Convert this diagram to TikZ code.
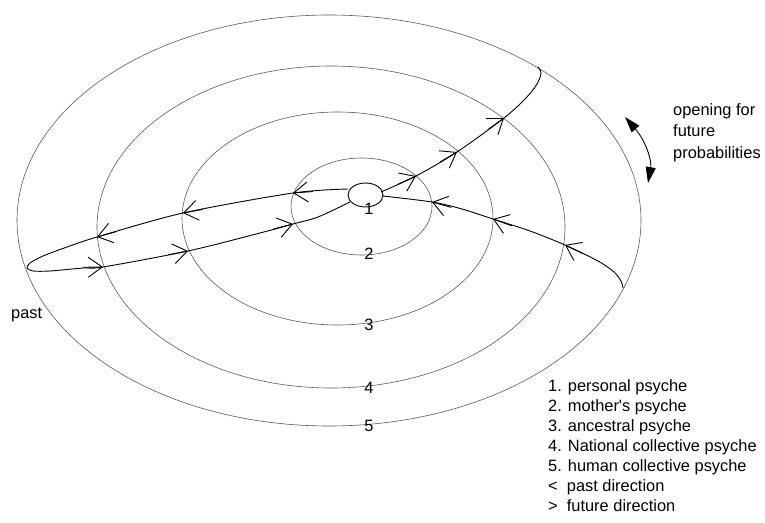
\documentclass[tikz,border=0pt]{standalone}
\usepackage{fontspec}
\setmainfont{Liberation Sans}
\usetikzlibrary{arrows.meta,calc}

\begin{document}
\begin{tikzpicture}[x=1pt,y=-1pt,
  ring/.style={draw=black!65,line width=0.6pt},
  trail/.style={line width=0.9pt},
  barb/.style={trail,-{Straight Barb[length=14pt,width=20pt]}},
  swing/.style={line width=0.9pt,{Triangle[length=16pt,width=10pt]}-{Triangle[length=16pt,width=10pt]}},
  txt/.style={font=\fontsize{16.4}{20}\selectfont,inner sep=0pt}]
  \useasboundingbox (0,0) rectangle (765,522);

  % the five psyches
  \draw[trail] (365.5,195) ellipse [x radius=17.5,y radius=12];
  \draw[ring] (361.5,206.5) ellipse [x radius=70.5,y radius=48.5];
  \draw[ring] (337.5,218.5) ellipse [x radius=155.5,y radius=106.5];
  \draw[ring] (331,227) ellipse [x radius=234,y radius=161];
  \draw[ring] (329,220.5) ellipse [x radius=312,y radius=205.5];

  \node[txt] (n1) at (369,209) {1};
  \node[txt] (n2) at (369,254) {2};
  \node[txt] (n3) at (369,325) {3};
  \node[txt] (n4) at (369,388) {4};
  \node[txt] (n5) at (369,426) {5};

  % crossings of the trail
  \coordinate (ul0) at (348,189);
  \coordinate (ul2) at (293,193);
  \coordinate (ul3) at (183,213);
  \coordinate (ul4) at (97,237);
  \coordinate (tip) at (27,268);
  \coordinate (ll4) at (103,267);
  \coordinate (ll3) at (188,251);
  \coordinate (ll2) at (293,224);
  \coordinate (ll0) at (350,202);

  \coordinate (ur0) at (381,192);
  \coordinate (ur2) at (416,176);
  \coordinate (ur3) at (457,152);
  \coordinate (ur4) at (504,118);
  \coordinate (ur5) at (538,67);

  \coordinate (lr0) at (383,196);
  \coordinate (lr2) at (432,202);
  \coordinate (lr3) at (493,219);
  \coordinate (lr4) at (565,245);
  \coordinate (lr45) at (598,261);
  \coordinate (lr5) at (623,288);

  \draw[trail] plot[smooth] coordinates {(ul0) (ul2) (ul3) (ul4) (67,247) (43,256) (30,263) (tip)
    (33,271) (50,271) (83,268) (ll4) (ll3) (260,233) (ll2) (318,217) (ll0)};
  \draw[trail] plot[smooth] coordinates {(ur0) (ur2) (ur3) (ur4) (526,98) (537,84) (541,73) (ur5)};
  \draw[trail] plot[smooth] coordinates {(lr0) (lr2) (462,209) (lr3) (530,231) (lr4) (lr45) (614,272) (621,281) (lr5)};

  \draw[barb] ($(ul2)!20pt!(ul0)$) -- (ul2);
  \draw[barb] ($(ul3)!20pt!(ul2)$) -- (ul3);
  \draw[barb] ($(ul4)!20pt!(ul3)$) -- (ul4);
  \draw[barb] ($(ll4)!20pt!(tip)$) -- (ll4);
  \draw[barb] ($(ll3)!20pt!(ll4)$) -- (ll3);
  \draw[barb] ($(ll2)!20pt!(ll3)$) -- (ll2);
  \draw[barb] ($(ur2)!20pt!(ur0)$) -- (ur2);
  \draw[barb] ($(ur3)!20pt!(ur2)$) -- (ur3);
  \draw[barb] ($(ur4)!20pt!(ur3)$) -- (ur4);
  \draw[barb] ($(lr2)!20pt!(lr3)$) -- (lr2);
  \draw[barb] ($(lr3)!20pt!(lr4)$) -- (lr3);
  \draw[barb] ($(lr4)!20pt!(lr45)$) -- (lr4);

  \coordinate (op1) at (625,117);
  \coordinate (op2) at (648,183);
  \draw[swing] (op1) .. controls (645,140) and (652,160) .. (op2);

  \node[txt,anchor=north west,align=left,font=\fontsize{16.4}{21.5}\selectfont] (open) at (673,103)
    {opening for\\future\\probabilities};
  \node[txt,anchor=base west] (past) at (11,318) {past};
  \node[txt,anchor=north west,align=left] (key) at (548,379)
    {1. personal psyche\\2. mother\textquotesingle s psyche\\3. ancestral psyche\\4. National collective psyche\\5. human collective psyche\\<\ \ past direction\\>\ \ future direction};
\end{tikzpicture}
\end{document}
